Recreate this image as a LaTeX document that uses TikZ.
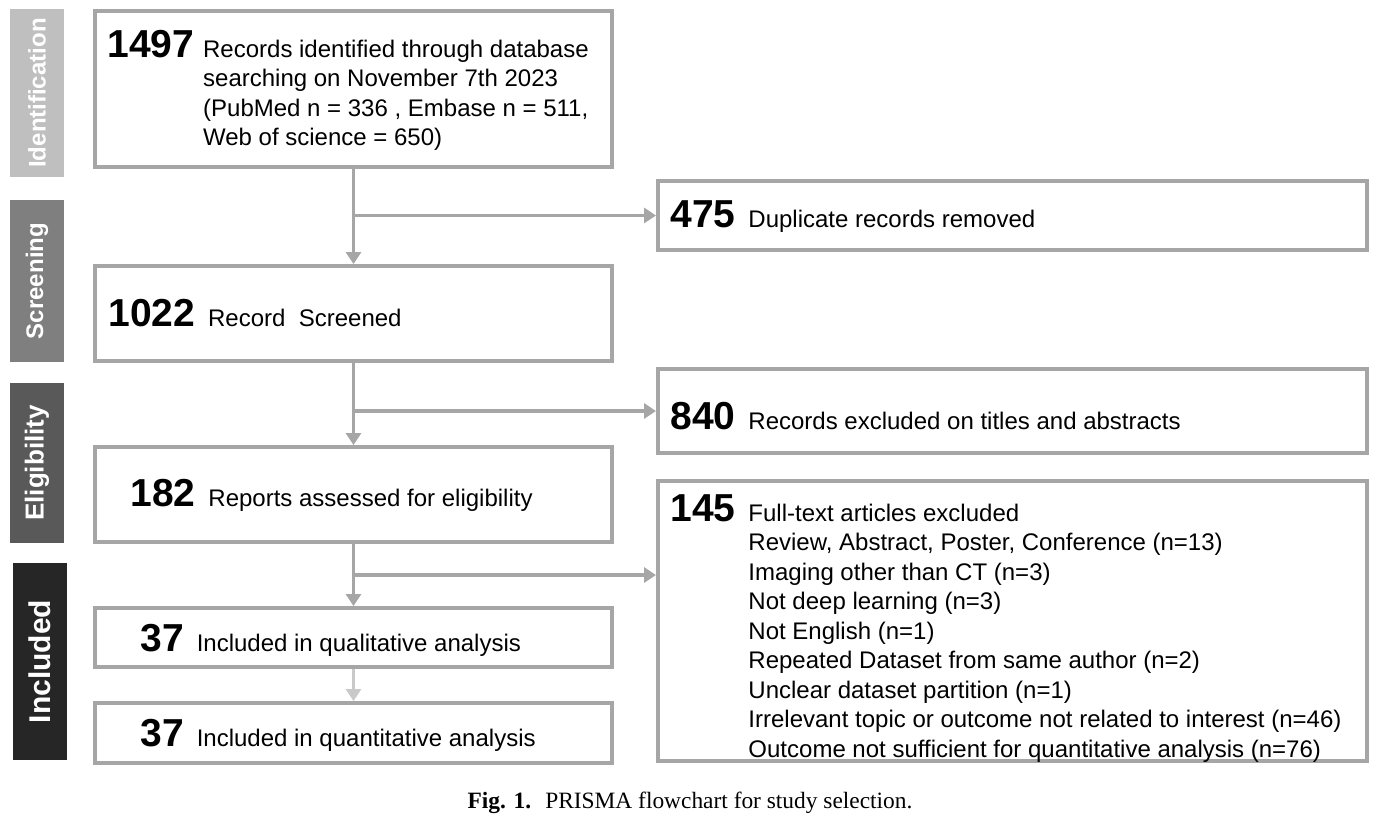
\documentclass[tikz,border=0pt]{standalone}
\usepackage{fontspec}
\setmainfont{Liberation Serif}
\setsansfont{Liberation Sans}
\usetikzlibrary{arrows.meta, calc, positioning}
\definecolor{prBorder}{HTML}{A6A6A6}
\definecolor{prLight}{HTML}{C9C9C9}
\definecolor{prStageA}{HTML}{BFBFBF}
\definecolor{prStageB}{HTML}{7F7F7F}
\definecolor{prStageC}{HTML}{595959}
\definecolor{prStageD}{HTML}{262626}
\newdimen\px \px=0.5pt
\newcommand{\bignum}[1]{{\fontsize{19.5}{20}\selectfont\bfseries #1}}
\newcommand{\numgap}{\hspace{6.5pt}}
\tikzset{
  % one unit is one pixel of the reference, y runs downwards
  every picture/.append style = {x=0.5pt, y=-0.5pt},
  box/.style      = {draw=prBorder, line width=2pt, rectangle, inner sep=0pt, anchor=north west},
  txt/.style      = {inner sep=0pt, anchor=base west, font=\sffamily\fontsize{12}{14.75}\selectfont},
  stagebar/.style = {rotate=90, inner sep=0pt, minimum height=54\px, text=white,
                     font=\sffamily\bfseries\fontsize{12}{12}\selectfont},
  flow/.style     = {draw=prBorder, line width=1.8pt, -{Triangle[length=6pt, width=7.5pt]}},
}
\begin{document}
\begin{tikzpicture}
  \useasboundingbox (0,0) rectangle (1387,821);
  % stage bars on the left
  \node[stagebar, fill=prStageA, minimum width=168\px] (stageident) at (37,93) {Identification};
  \node[stagebar, fill=prStageB, minimum width=162\px] (stagescreen) at (37,281) {Screening};
  \node[stagebar, fill=prStageC, minimum width=160\px,
        font=\sffamily\bfseries\fontsize{13}{13}\selectfont] (stageelig) at (37,463) {Eligibility};
  \node[stagebar, fill=prStageD, minimum width=197\px,
        font=\sffamily\bfseries\fontsize{15}{15}\selectfont] (stageincl) at (40,661.5) {Included};
  % main column
  \node[box, minimum width=517\px, minimum height=156\px] (ident) at (93,9) {};
  \node[box, minimum width=517\px, minimum height=95\px] (screen) at (93,264) {};
  \node[box, minimum width=517\px, minimum height=95\px] (reports) at (93,445) {};
  \node[box, minimum width=517\px, minimum height=59\px] (qual) at (93,606) {};
  \node[box, minimum width=517\px, minimum height=60\px] (quant) at (93,701) {};
  % side column
  \node[box, minimum width=709\px, minimum height=69\px] (dup) at (656,179) {};
  \node[box, minimum width=709\px, minimum height=84\px] (excl) at (656,367) {};
  \node[box, minimum width=709\px, minimum height=280\px] (full) at (656,479) {};
  % texts
  \node[txt] (identtxt) at (107,57) {\begin{tabular}[t]{@{}l@{\hspace{4.5pt}}l@{}}
      \bignum{1497} & Records identified through database\\
      & searching on November 7th 2023\\
      & (PubMed n = 336 , Embase n = 511,\\
      & Web of science = 650)\end{tabular}};
  \node[txt] (screentxt) at (108,326) {\bignum{1022}\numgap Record\ \ Screened};
  \node[txt] (reportstxt) at (130,506) {\bignum{182}\numgap Reports assessed for eligibility};
  \node[txt] (qualtxt) at (140,651) {\bignum{37}\numgap Included in qualitative analysis};
  \node[txt] (quanttxt) at (140,746) {\bignum{37}\numgap Included in quantitative analysis};
  \node[txt] (duptxt) at (670,227) {\bignum{475}\numgap Duplicate records removed};
  \node[txt] (excltxt) at (670,429) {\bignum{840}\numgap Records excluded on titles and abstracts};
  \node[txt] (fulltxt) at (670,521) {\begin{tabular}[t]{@{}l@{\numgap}l@{}}
      \bignum{145} & Full-text articles excluded\\
      & Review, Abstract, Poster, Conference (n=13)\\
      & Imaging other than CT (n=3)\\
      & Not deep learning (n=3)\\
      & Not English (n=1)\\
      & Repeated Dataset from same author (n=2)\\
      & Unclear dataset partition (n=1)\\
      & Irrelevant topic or outcome not related to interest (n=46)\\
      & Outcome not sufficient for quantitative analysis (n=76)\end{tabular}};
  % connectors
  \draw[flow] (ident.south) -- (screen.north);
  \draw[flow] (ident.south |- dup.west) -- (dup.west);
  \draw[flow] (screen.south) -- (reports.north);
  \draw[flow] (screen.south |- excl.west) -- (excl.west);
  \draw[flow] (reports.south) -- (qual.north);
  \coordinate (splitfull) at ($(reports.south)!0.5!(qual.north)$);
  \draw[flow] (splitfull) -- (splitfull -| full.west);
  \draw[flow, draw=prLight] (qual.south) -- (quant.north);
  % caption
  \node[anchor=base, inner sep=0pt, font=\fontsize{11.7}{13}\selectfont] (caption) at (690,808)
    {\textbf{Fig. 1.}\hspace{0.6em}PRISMA flowchart for study selection.};
\end{tikzpicture}
\end{document}
